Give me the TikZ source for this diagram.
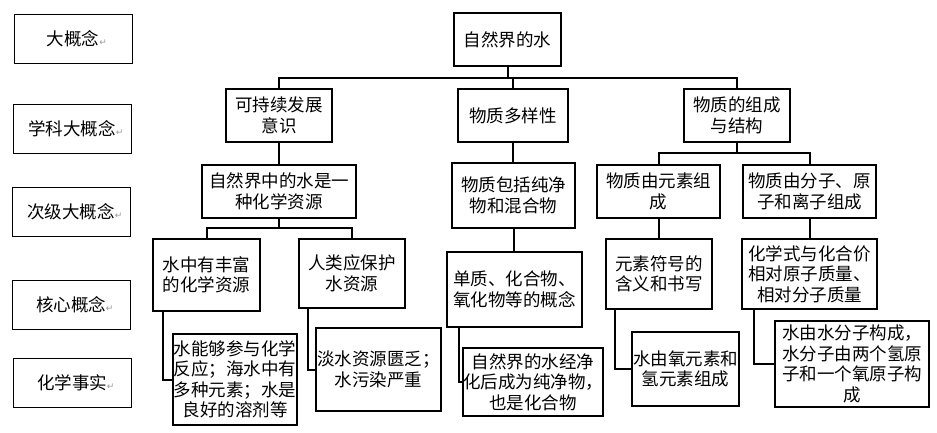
\documentclass[tikz,border=0pt]{standalone}
\usepackage{fontspec}
\setmainfont{Noto Sans CJK SC}
\newfontfamily\djv{DejaVu Sans}
\newcommand{\pmark}{\rlap{\djv\fontsize{9}{9}\selectfont\color{gray!80}↵}}
\begin{document}
\begin{tikzpicture}[x=1pt,y=-1pt,
  mbox/.style={draw, line width=2pt, inner sep=0pt, align=center,
    font=\fontsize{17.5}{20.5}\selectfont},
  lbox/.style={draw, line width=0.9pt, inner sep=0pt, align=center,
    minimum width=118pt, minimum height=49pt,
    font=\fontsize{17.5}{20.5}\selectfont},
  conn/.style={line width=2pt}]
\useasboundingbox (0,0) rectangle (937,433);
% left labels
\node[lbox] (L1) at (73,38.5) {大概念\pmark};
\node[lbox] (L2) at (72,128.5) {学科大概念\pmark};
\node[lbox] (L3) at (71,211.5) {次级大概念\pmark};
\node[lbox] (L4) at (71,304.5) {核心概念\pmark};
\node[lbox] (L5) at (72,382.5) {化学事实\pmark};
% main tree
\node[mbox, minimum width=107pt, minimum height=53pt] (top) at (507.5,39.5) {自然界的水};
\node[mbox, minimum width=106pt, minimum height=53pt] (A1) at (279,115.5) {可持续发展\\意识};
\node[mbox, minimum width=110pt, minimum height=53pt] (A2) at (513,115.5) {物质多样性};
\node[mbox, minimum width=106pt, minimum height=53pt] (A3) at (737,115.5) {物质的组成\\与结构};
\node[mbox, minimum width=154pt, minimum height=53pt] (B1) at (279,191.5) {自然界中的水是一\\种化学资源};
\node[mbox, minimum width=123pt, minimum height=65pt] (B2) at (513.5,195.5) {物质包括纯净\\物和混合物};
\node[mbox, minimum width=123pt, minimum height=53pt] (B3) at (658.5,191.5) {物质由元素组\\成};
\node[mbox, minimum width=133pt, minimum height=53pt] (B4) at (809.5,191.5) {物质由分子、原\\子和离子组成};
\node[mbox, minimum width=107pt, minimum height=72pt] (C1) at (206.5,275) {水中有丰富\\的化学资源};
\node[mbox, minimum width=106pt, minimum height=69pt] (C2) at (352,273.5) {人类应保护\\水资源};
\node[mbox, minimum width=135pt, minimum height=75pt] (C3) at (514.5,289.5) {单质、化合物、\\氧化物等的概念};
\node[mbox, minimum width=106pt, minimum height=70pt] (C4) at (659,274) {元素符号的\\含义和书写};
\node[mbox, minimum width=135pt, minimum height=70pt] (C5) at (809.5,274) {化学式与化合价\\相对原子质量、\\相对分子质量};
\node[mbox, minimum width=124pt, minimum height=91pt] (D1) at (235,379.5) {水能够参与化学\\反应；海水中有\\多种元素；水是\\良好的溶剂等};
\node[mbox, minimum width=125pt, minimum height=83pt] (D2) at (378.5,369.5) {淡水资源匮乏；\\水污染严重};
\node[mbox, minimum width=138pt, minimum height=68pt] (D3) at (533,382) {自然界的水经净\\化后成为纯净物，\\也是化合物};
\node[mbox, minimum width=107pt, minimum height=74pt] (D4) at (685.5,369) {水由氧元素和\\氢元素组成};
\node[mbox, minimum width=154pt, minimum height=86pt] (D5) at (852,364) {水由水分子构成，\\水分子由两个氢原\\子和一个氧原子构\\成};
% bus coordinates
\coordinate (j1) at (0,78);
\coordinate (j2) at (0,153);
\coordinate (j3) at (0,228);
% connectors
\draw[conn] (top.south) -- (top.south |- j1);
\draw[conn] (A1.north) |- (j1 -| A3.north) -- (A3.north);
\draw[conn] (A2.north) -- (A2.north |- j1);
\draw[conn] (A1.south) -- (B1.north);
\draw[conn] (A2.south) -- (A2.south |- B2.north);
\draw[conn] (A3.south) -- (A3.south |- j2);
\draw[conn] (B3.north) |- (j2 -| B4.north) -- (B4.north);
\draw[conn] (B1.south) -- (B1.south |- j3);
\draw[conn] (C1.north) |- (j3 -| C2.north) -- (C2.north);
\draw[conn] (B2.south) -- (B2.south |- C3.north);
\draw[conn] (B3.south) -- (B3.south |- C4.north);
\draw[conn] (B4.south) -- (C5.north);
\draw[conn] ([xshift=11pt]C1.south west) |- (D1.west);
\draw[conn] ([xshift=10pt]C2.south west) |- (D2.west);
\draw[conn] ([xshift=13pt]C3.south west) |- (D3.west);
\draw[conn] ([xshift=10pt]C4.south west) |- (D4.west);
\draw[conn] ([xshift=13pt]C5.south west) |- (D5.west);
\end{tikzpicture}
\end{document}
